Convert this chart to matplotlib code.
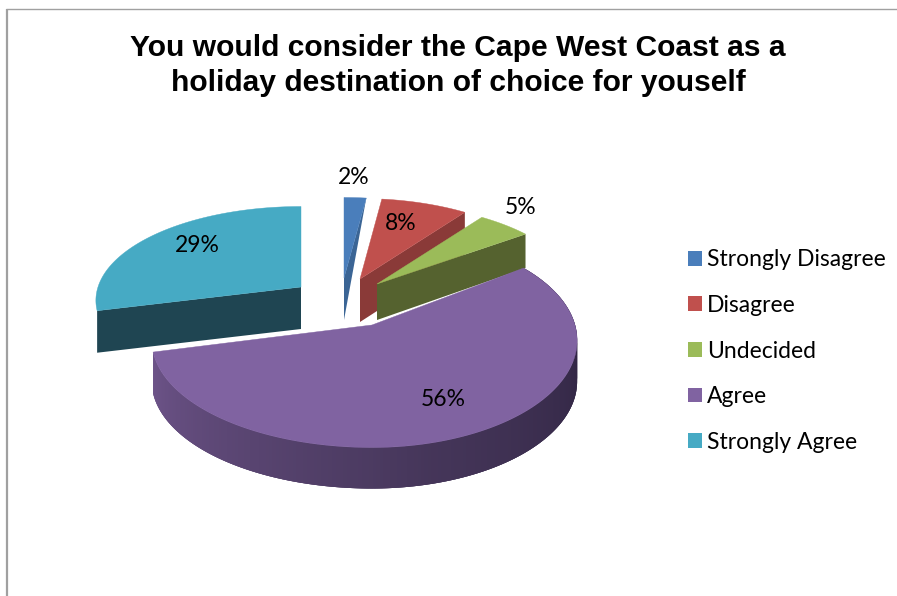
import numpy as np
import matplotlib
matplotlib.use("Agg")
import matplotlib.pyplot as plt
from matplotlib.patches import Polygon, Patch

title_lines = ["You would consider the Cape West Coast as a", "holiday destination of choice for youself"]
categories = ["Strongly Disagree", "Disagree", "Undecided", "Agree", "Strongly Agree"]
values = [2, 8, 5, 56, 29]
value_labels = ["2%", "8%", "5%", "56%", "29%"]

top_colors = ["#4a7ebb", "#c0504d", "#9bbb59", "#8063a1", "#46aac4"]
wall_colors = ["#3b6595", "#8a3a38", "#55622f", "#5c4873", "#1f4552"]

# per-slice layout (pixels): tip x, tip y, x radius right, x radius left, y radius,
# wall depth at tip, wall depth at outer edge
layout = [
    (344, 278, 203, 203, 92, 42, 0),
    (360, 279, 199, 199, 92, 43, 42),
    (377, 284, 199, 199, 92, 36, 34),
    (372, 325, 203, 218, 105, 42, 41),
    (301, 287, 203, 203, 92, 42, 42),
]
label_pos = [(354, 178), (401, 223), (521, 208), (443, 400), (197, 245)]
KP = 0.143  # perspective strength

plt.rcParams["font.family"] = ["Lato", "DejaVu Sans"]
fig = plt.figure(figsize=(8.97, 5.96), dpi=100)
ax = fig.add_axes([0, 0, 1, 1])
ax.set_xlim(0, 897)
ax.set_ylim(596, 0)
ax.axis("off")


def project(t, lay):
    cx, cy, rr, rl, ry = lay[:5]
    s = 1.0 / (1.0 + KP * np.cos(t))
    rx = np.where(np.sin(t) >= 0, rr, rl)
    return cx + rx * np.sin(t) * s, cy - ry * np.cos(t) * s


edges = np.deg2rad(np.concatenate([[0], np.cumsum(values)]) * 3.6)
order = [0, 1, 2, 4, 3]

for i in order:
    lay = layout[i]
    cx, cy = lay[0], lay[1]
    d_tip, d_out = lay[5], lay[6]
    t = np.linspace(edges[i], edges[i + 1], 240)
    x, y = project(t, lay)

    if i == 3:
        # outer wall, shaded by angle; each strip overlaps the next to avoid seams
        stops = [0.1, 0.55, 1.0]
        shades = np.array([[0.17, 0.13, 0.24], [0.27, 0.21, 0.35], [0.43, 0.33, 0.54]])
        for a in range(len(t) - 1):
            f = (np.rad2deg(t[a]) - np.rad2deg(edges[3])) / np.rad2deg(edges[4] - edges[3])
            c = tuple(np.interp(f, stops, shades[:, k]) for k in range(3))
            b = min(a + 3, len(t) - 1)
            xs = x[a:b + 1]
            ys = y[a:b + 1]
            poly = np.column_stack([np.r_[xs, xs[::-1]], np.r_[ys, ys[::-1] + d_out]])
            ax.add_patch(Polygon(poly, closed=True, fc=c, ec="none", zorder=i + 1 + a * 1e-4))
    elif i == 4:
        ax.add_patch(Polygon([(x[0], y[0]), (cx, cy), (cx, cy + d_tip), (x[0], y[0] + d_out)],
                             closed=True, fc=wall_colors[i], ec="none", zorder=i + 1))
    else:
        ax.add_patch(Polygon([(x[-1], y[-1]), (cx, cy), (cx, cy + d_tip), (x[-1], y[-1] + d_out)],
                             closed=True, fc=wall_colors[i], ec="none", zorder=i + 1))
    # top face
    ax.add_patch(Polygon(np.column_stack([np.r_[cx, x], np.r_[cy, y]]), closed=True,
                         fc=top_colors[i], ec=top_colors[i], lw=0.3, zorder=i + 1.5))

for (lx, ly), text in zip(label_pos, value_labels):
    ax.text(lx, ly, text, ha="center", va="center", fontsize=16.5, color="black", zorder=10)

for yy, line in zip((48, 83), title_lines):
    ax.text(458, yy, line, ha="center", va="center", fontsize=21.6, fontweight="bold",
            family="Liberation Sans", color="black")

handles = [Patch(fc=c, ec="none") for c in top_colors]
ax.legend(handles, categories, loc="center left", bbox_to_anchor=(688, 351), bbox_transform=ax.transData,
          frameon=False, fontsize=16.5, labelspacing=1.07, handlelength=0.62, handleheight=0.62,
          handletextpad=0.2, borderpad=0, borderaxespad=0)

ax.plot([7, 7], [9, 596], color="#a0a0a0", lw=1.6, solid_capstyle="butt")
ax.plot([6, 897], [9, 9], color="#a0a0a0", lw=1.0, solid_capstyle="butt")

fig.savefig("out.png", dpi=100)
